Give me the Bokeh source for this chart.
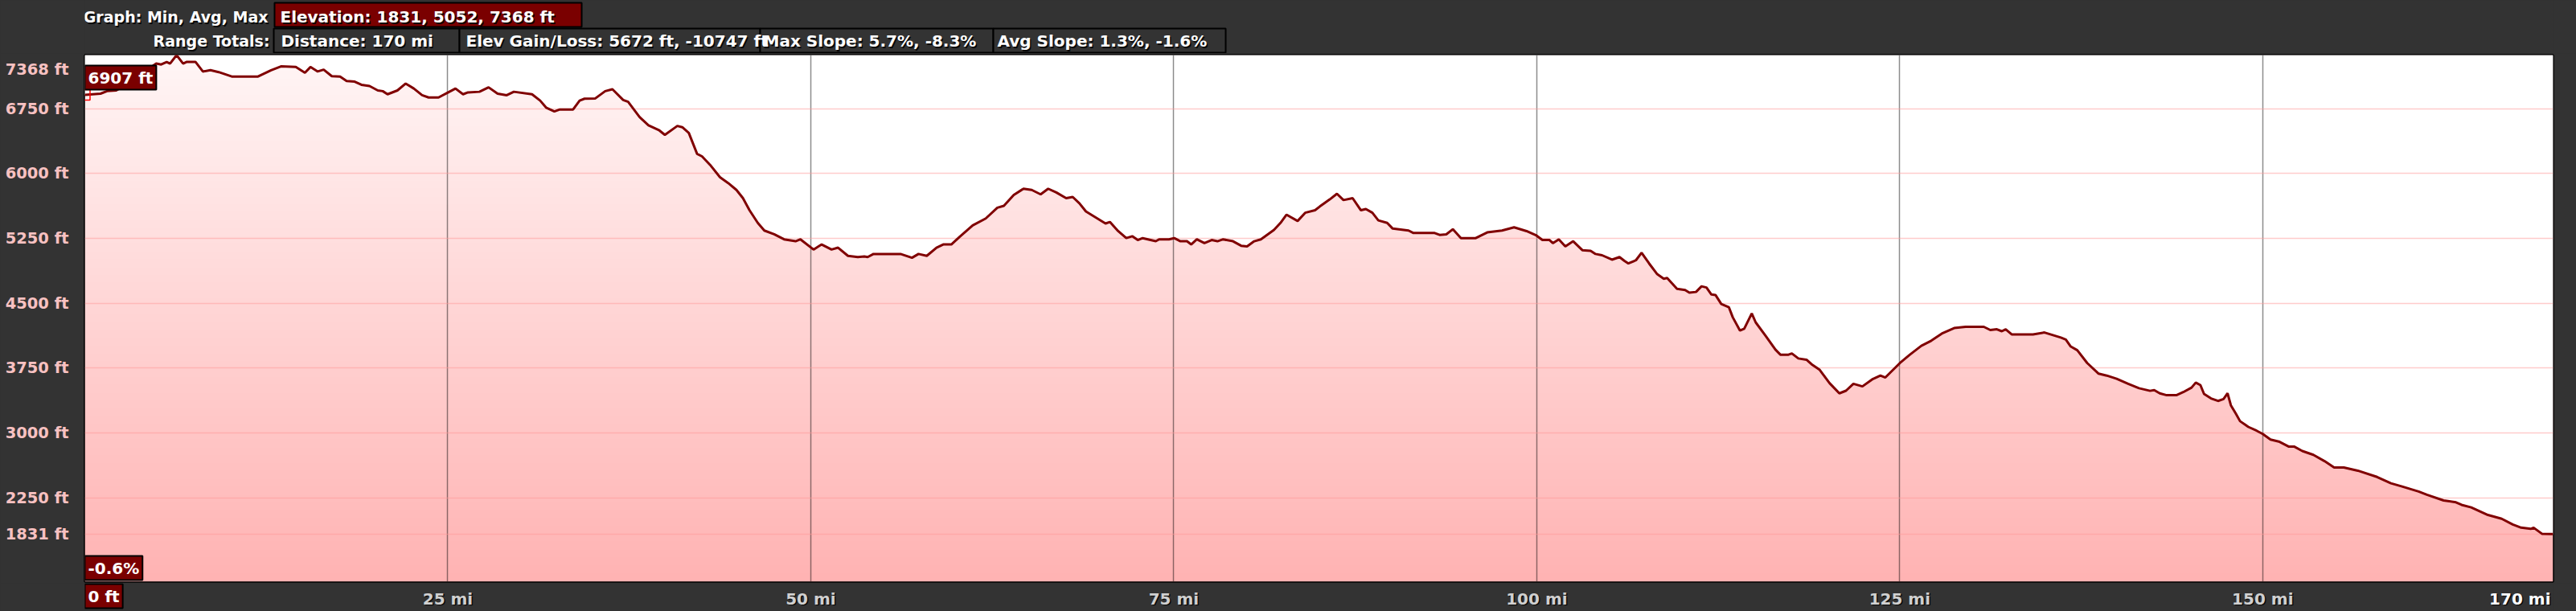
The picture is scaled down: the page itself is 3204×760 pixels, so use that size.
import numpy as np
from bokeh.plotting import figure
from bokeh.models import Range1d, FixedTicker, Label, ColumnDataSource
from bokeh.layouts import column
from bokeh.core.properties import value
from bokeh.embed import file_html
from bokeh.resources import INLINE

# ---------------- data ----------------
miles = [0, 1.08, 1.53, 2.16, 3.0, 3.8, 4.4, 4.92, 5.26, 5.64, 5.87, 6.32, 6.77, 7.0, 7.63, 8.13, 8.65,
         9.22, 10.12, 11.93, 12.83, 13.51, 14.53, 15.16, 15.54, 16.04, 16.45, 17.01, 17.58, 18.03, 18.59,
         19.05, 19.61, 20.18, 20.52, 20.85, 21.53, 22.1, 22.66, 23.23, 23.68, 24.36, 25.03, 25.53, 26.05,
         26.39, 27.18, 27.81, 28.43, 29.06, 29.55, 30.8, 31.36, 31.77, 32.34, 32.72, 33.63, 34.08, 34.42,
         35.16, 35.84, 36.34, 37.08, 37.42, 38.21, 38.82, 39.57, 39.95, 40.81, 41.15, 41.6, 42.17, 42.51,
         43.07, 43.75, 44.31, 44.88, 45.33, 45.78, 46.35, 46.8, 47.48, 48.16, 48.95, 49.29, 50.19, 50.75,
         51.43, 51.88, 52.56, 53.24, 53.69, 53.92, 54.32, 56.18, 56.97, 57.42, 57.99, 58.66, 59.12, 59.68,
         60.25, 61.15, 62.05, 62.85, 63.3, 63.98, 64.65, 65.22, 65.83, 66.35, 66.91, 67.59, 68.04, 68.5,
         68.95, 70.3, 70.6, 71.17, 71.73, 72.14, 72.52, 72.86, 73.76, 73.99, 74.67, 75.03, 75.46, 75.91,
         76.2, 76.59, 77.11, 77.61, 78.01, 78.4, 79.08, 79.64, 80.05, 80.54, 81.0, 81.9, 82.35, 82.76,
         83.53, 84.05, 84.73, 85.06, 85.74, 86.24, 86.69, 87.32, 87.89, 88.23, 88.68, 89.09, 89.7, 90.08,
         91.17, 91.51, 92.97, 93.31, 93.77, 94.22, 94.78, 95.8, 96.59, 97.61, 98.44, 99.3, 99.98, 100.39,
         100.88, 101.11, 101.52, 101.97, 102.51, 103.14, 103.71, 104.05, 104.5, 105.18, 105.7, 106.04,
         106.31, 106.83, 107.22, 107.74, 108.3, 108.75, 108.98, 109.66, 110.22, 110.51, 110.97, 111.35,
         111.69, 112.03, 112.32, 112.71, 113.23, 113.5, 114.0, 114.29, 114.81, 115.08, 115.76, 116.44,
         116.78, 117.34, 117.57, 118.02, 118.58, 118.92, 119.49, 120.17, 120.84, 121.3, 121.81, 122.43,
         123.1, 123.67, 124.01, 125.02, 125.7, 126.49, 127.17, 127.96, 128.75, 129.54, 130.79, 131.24,
         131.69, 132.03, 132.3, 132.71, 134.18, 134.97, 136.1, 136.44, 136.78, 137.23, 137.91, 138.7,
         139.26, 139.94, 140.73, 141.48, 142.24, 142.53, 142.91, 143.39, 144.05, 144.53, 145.1, 145.39,
         145.71, 145.96, 146.44, 146.92, 147.3, 147.58, 147.81, 148.15, 148.44, 149.01, 149.58, 150.0,
         150.54, 151.11, 151.78, 152.16, 152.73, 153.49, 154.26, 154.92, 155.59, 156.55, 157.88, 158.83,
         159.6, 160.74, 161.31, 162.46, 163.31, 163.7, 164.36, 165.51, 166.46, 167.22, 167.8, 168.46,
         168.66, 169.23, 169.9, 170.0]
elev = [6907, 6922, 6951, 6959, 7040, 7120, 7210, 7270, 7259, 7288, 7270, 7368, 7270, 7288, 7288, 7178, 7193,
        7171, 7120, 7120, 7193, 7237, 7230, 7164, 7230, 7178, 7200, 7124, 7120, 7069, 7061,
        7025, 7010, 6959, 6951, 6915, 6959, 7039, 6981, 6904, 6878, 6878, 6937, 6981, 6915,
        6937, 6944, 6995, 6922, 6904, 6944, 6915, 6842, 6761, 6717, 6739, 6739, 6842, 6864,
        6867, 6951, 6973, 6849, 6827, 6651, 6556, 6497, 6446, 6549, 6534, 6468, 6226, 6197,
        6098, 5955, 5889, 5809, 5714, 5574, 5428, 5340, 5296, 5238, 5216, 5238, 5120, 5179,
        5120, 5142, 5047, 5033, 5040, 5033, 5069, 5069, 5025, 5069, 5047, 5142, 5179, 5179,
        5267, 5399, 5479, 5604, 5626, 5750, 5823, 5809, 5758, 5823, 5780, 5714, 5728, 5655,
        5560, 5421, 5439, 5333, 5252, 5274, 5230, 5252, 5216, 5238, 5238, 5252, 5216, 5216,
        5179, 5238, 5194, 5230, 5216, 5238, 5216, 5164, 5157, 5216, 5238, 5347, 5428, 5523,
        5450, 5545, 5574, 5618, 5699, 5765, 5692, 5714, 5574, 5589, 5545, 5457, 5428, 5362,
        5340, 5311, 5311, 5289, 5296, 5355, 5252, 5252, 5318, 5340, 5377, 5333, 5282, 5230,
        5230, 5194, 5238, 5157, 5216, 5113, 5106, 5069, 5054, 5003, 5033, 4989,
        4959, 4996, 5084, 4959, 4835, 4783, 4791, 4666, 4652, 4622, 4630, 4695,
        4681, 4600, 4593, 4491, 4454, 4337, 4183, 4205, 4381, 4278, 4124, 3963,
        3905, 3905, 3919, 3861, 3846, 3795, 3729, 3575, 3458, 3488, 3568, 3538,
        3619, 3663, 3641, 3809, 3905, 4007, 4066, 4154, 4212, 4227, 4227, 4190,
        4198, 4176, 4198, 4139, 4139, 4161, 4102, 4080, 3999, 3956, 3809, 3685,
        3663, 3626, 3568, 3517, 3487, 3495, 3458, 3436, 3436, 3472, 3524, 3582,
        3553, 3451, 3399, 3370, 3392, 3458, 3319, 3223, 3136, 3070, 3026, 2989,
        2923, 2901, 2843, 2843, 2791, 2747, 2674, 2601, 2601, 2564, 2491, 2418,
        2381, 2323, 2286, 2220, 2198, 2169, 2139, 2052, 2008, 1942, 1905, 1891,
        1905, 1835, 1831, 1831]

y_ticks = [1831, 2250, 3000, 3750, 4500, 5250, 6000, 6750]
y_top = 7368
y_bottom = 1281
x_ticks = [25, 50, 75, 100, 125, 150]
x_end = 170

header_titles = ["Graph: Min, Avg, Max", "Range Totals:"]
elev_summary = "Elevation: 1831, 5052, 7368 ft"
range_totals = ["Distance: 170 mi", "Elev Gain/Loss: 5672 ft, -10747 ft",
                "Max Slope: 5.7%, -8.3%", "Avg Slope: 1.3%, -1.6%"]
cursor_elev = 6907
cursor_slope = "-0.6%"
cursor_dist = "0 ft"

FONT_NAME = "DejaVu Sans"
FONT = value(FONT_NAME)
DARK = "#333333"
BOXRED = "#7a0000"
W = 3204
BL, BR = 105, 29          # left / right borders -> frame spans 105..3175 px


def dark_fig(**kw):
    f = figure(output_backend="svg", toolbar_location=None, **kw)
    f.background_fill_color = DARK
    f.border_fill_color = DARK
    f.outline_line_color = None
    return f


# ---------------- header (pixel-like coordinates) ----------------
h = dark_fig(width=W, height=66, x_range=Range1d(BL, W - BR), y_range=Range1d(66, 0),
             x_axis_type=None, y_axis_type=None,
             min_border_left=BL, min_border_right=BR, min_border_top=0, min_border_bottom=0)

h.quad(left=[341], right=[723], top=[3], bottom=[33], fill_color=BOXRED,
       line_color="black", line_width=2)
h.quad(left=[340, 571, 945, 1235], right=[571, 945, 1235, 1524], top=[35] * 4, bottom=[65] * 4,
       fill_color=DARK, line_color="black", line_width=2)

hdr = ColumnDataSource(dict(
    x=[333, 335, 348, 349, 579, 949, 1240],
    y=[20.5, 50.5, 20.5, 50.5, 50.5, 50.5, 50.5],
    text=header_titles + [elev_summary] + range_totals,
    align=["right", "right", "left", "left", "left", "left", "left"],
    size=["19px", "19px", "20px", "20px", "20px", "20px", "20px"],
))
for dx, col, alpha in [(1.5, "black", 0.85), (0, "white", 1.0)]:
    h.text(x="x", y="y", text="text", source=hdr, x_offset=dx, y_offset=dx,
           text_align="align", text_baseline="middle", text_font=FONT,
           text_font_style="bold", text_font_size="size", text_color=col, text_alpha=alpha)

# ---------------- main chart ----------------
xr = Range1d(0, x_end)
p = figure(width=W, height=659, x_range=xr, y_range=Range1d(y_bottom, y_top),
           output_backend="svg", toolbar_location=None, x_axis_location=None,
           min_border_left=BL, min_border_right=BR, min_border_top=2, min_border_bottom=2)
p.background_fill_color = "white"
p.border_fill_color = DARK
p.outline_line_color = "black"
p.outline_line_width = 2.5

# vertical gradient for the filled area
n = 500
frac = np.linspace(0.0, 1.0, n)
img = np.empty((n, 1), dtype=np.uint32)
view = img.view(dtype=np.uint8).reshape((n, 1, 4))
view[:, 0, 0] = 255
view[:, 0, 1] = (179 + (246 - 179) * frac).astype(np.uint8)
view[:, 0, 2] = (179 + (246 - 179) * frac).astype(np.uint8)
view[:, 0, 3] = 255
p.image_rgba(image=[img], x=0, y=y_bottom, dw=x_end, dh=y_top - y_bottom, level="image")

src = ColumnDataSource(dict(x=miles, y=elev, top=[y_top] * len(miles)))
p.varea(x="x", y1="y", y2="top", source=src, fill_color="white", level="image")
p.line(x="x", y="y", source=src, line_color="#800000", line_width=3)

p.scatter(x=[0], y=[cursor_elev], marker="square", size=13, fill_color=None,
          line_color="red", line_width=1.5)

# y axis
p.yaxis.ticker = FixedTicker(ticks=y_ticks + [y_top])
overrides = {t: f"{t} ft" for t in y_ticks}
overrides[y_top] = f"\n{y_top} ft"
p.yaxis.major_label_overrides = overrides
ya = p.yaxis[0]
ya.axis_line_color = None
ya.major_tick_line_color = None
ya.minor_tick_line_color = None
ya.major_tick_in = 0
ya.major_tick_out = 0
ya.major_label_text_font = FONT_NAME
ya.major_label_text_font_style = "bold"
ya.major_label_text_font_size = "19.5px"
ya.major_label_text_line_height = 0.38
ya.major_label_text_color = "#f7c1c1"
ya.major_label_standoff = 20

p.ygrid.grid_line_color = "#ff9999"
p.ygrid.grid_line_alpha = 0.5
p.ygrid.grid_line_width = 1.5
# vertical grid lines at the distance ticks
p.xgrid.ticker = FixedTicker(ticks=x_ticks)
p.xgrid.grid_line_color = "black"
p.xgrid.grid_line_alpha = 0.45
p.xgrid.grid_line_width = 1.5

pad = dict(left=4, right=4, top=3, bottom=3)
common = dict(text_font=FONT_NAME, text_font_style="bold", text_font_size="20px",
              text_color="white", background_fill_color=BOXRED, border_line_color="black",
              border_line_width=2, padding=pad)
p.add_layout(Label(x=0, y=y_top, x_offset=0, y_offset=-13, text=f"{cursor_elev} ft",
                   text_align="left", text_baseline="top", **common))
p.add_layout(Label(x=0, y=y_bottom, x_offset=0, y_offset=2, text=cursor_slope,
                   text_align="left", text_baseline="bottom", **common))

# ---------------- footer: distance labels ----------------
f = dark_fig(width=W, height=35, x_range=xr, y_range=Range1d(35, 0),
             x_axis_type=None, y_axis_type=None,
             min_border_left=BL, min_border_right=BR, min_border_top=0, min_border_bottom=0)
tick_src = ColumnDataSource(dict(x=x_ticks, y=[19] * len(x_ticks),
                                 text=[f"{t} mi" for t in x_ticks]))
for dx, col, alpha in [(1.5, "black", 0.85), (0, "#d0d0d0", 1.0)]:
    f.text(x="x", y="y", text="text", source=tick_src, x_offset=dx, y_offset=dx,
           text_align="center", text_baseline="middle", text_font=FONT, text_font_style="bold",
           text_font_size="20px", text_color=col, text_alpha=alpha)
end_src = ColumnDataSource(dict(x=[x_end], y=[19], text=[f"{x_end} mi"]))
for dx, col, alpha in [(1.5, "black", 0.85), (0, "white", 1.0)]:
    f.text(x="x", y="y", text="text", source=end_src, x_offset=-3 + dx, y_offset=dx,
           text_align="right", text_baseline="middle", text_font=FONT, text_font_style="bold",
           text_font_size="20px", text_color=col, text_alpha=alpha)
f.add_layout(Label(x=0, y=1, text=cursor_dist, text_align="left", text_baseline="top", **common))

layout = column(h, p, f)
html = file_html(layout, INLINE)
html = html.replace("</head>", "<style>html, body { background-color: #333333; }</style></head>", 1)
open("out.html", "w").write(html)
